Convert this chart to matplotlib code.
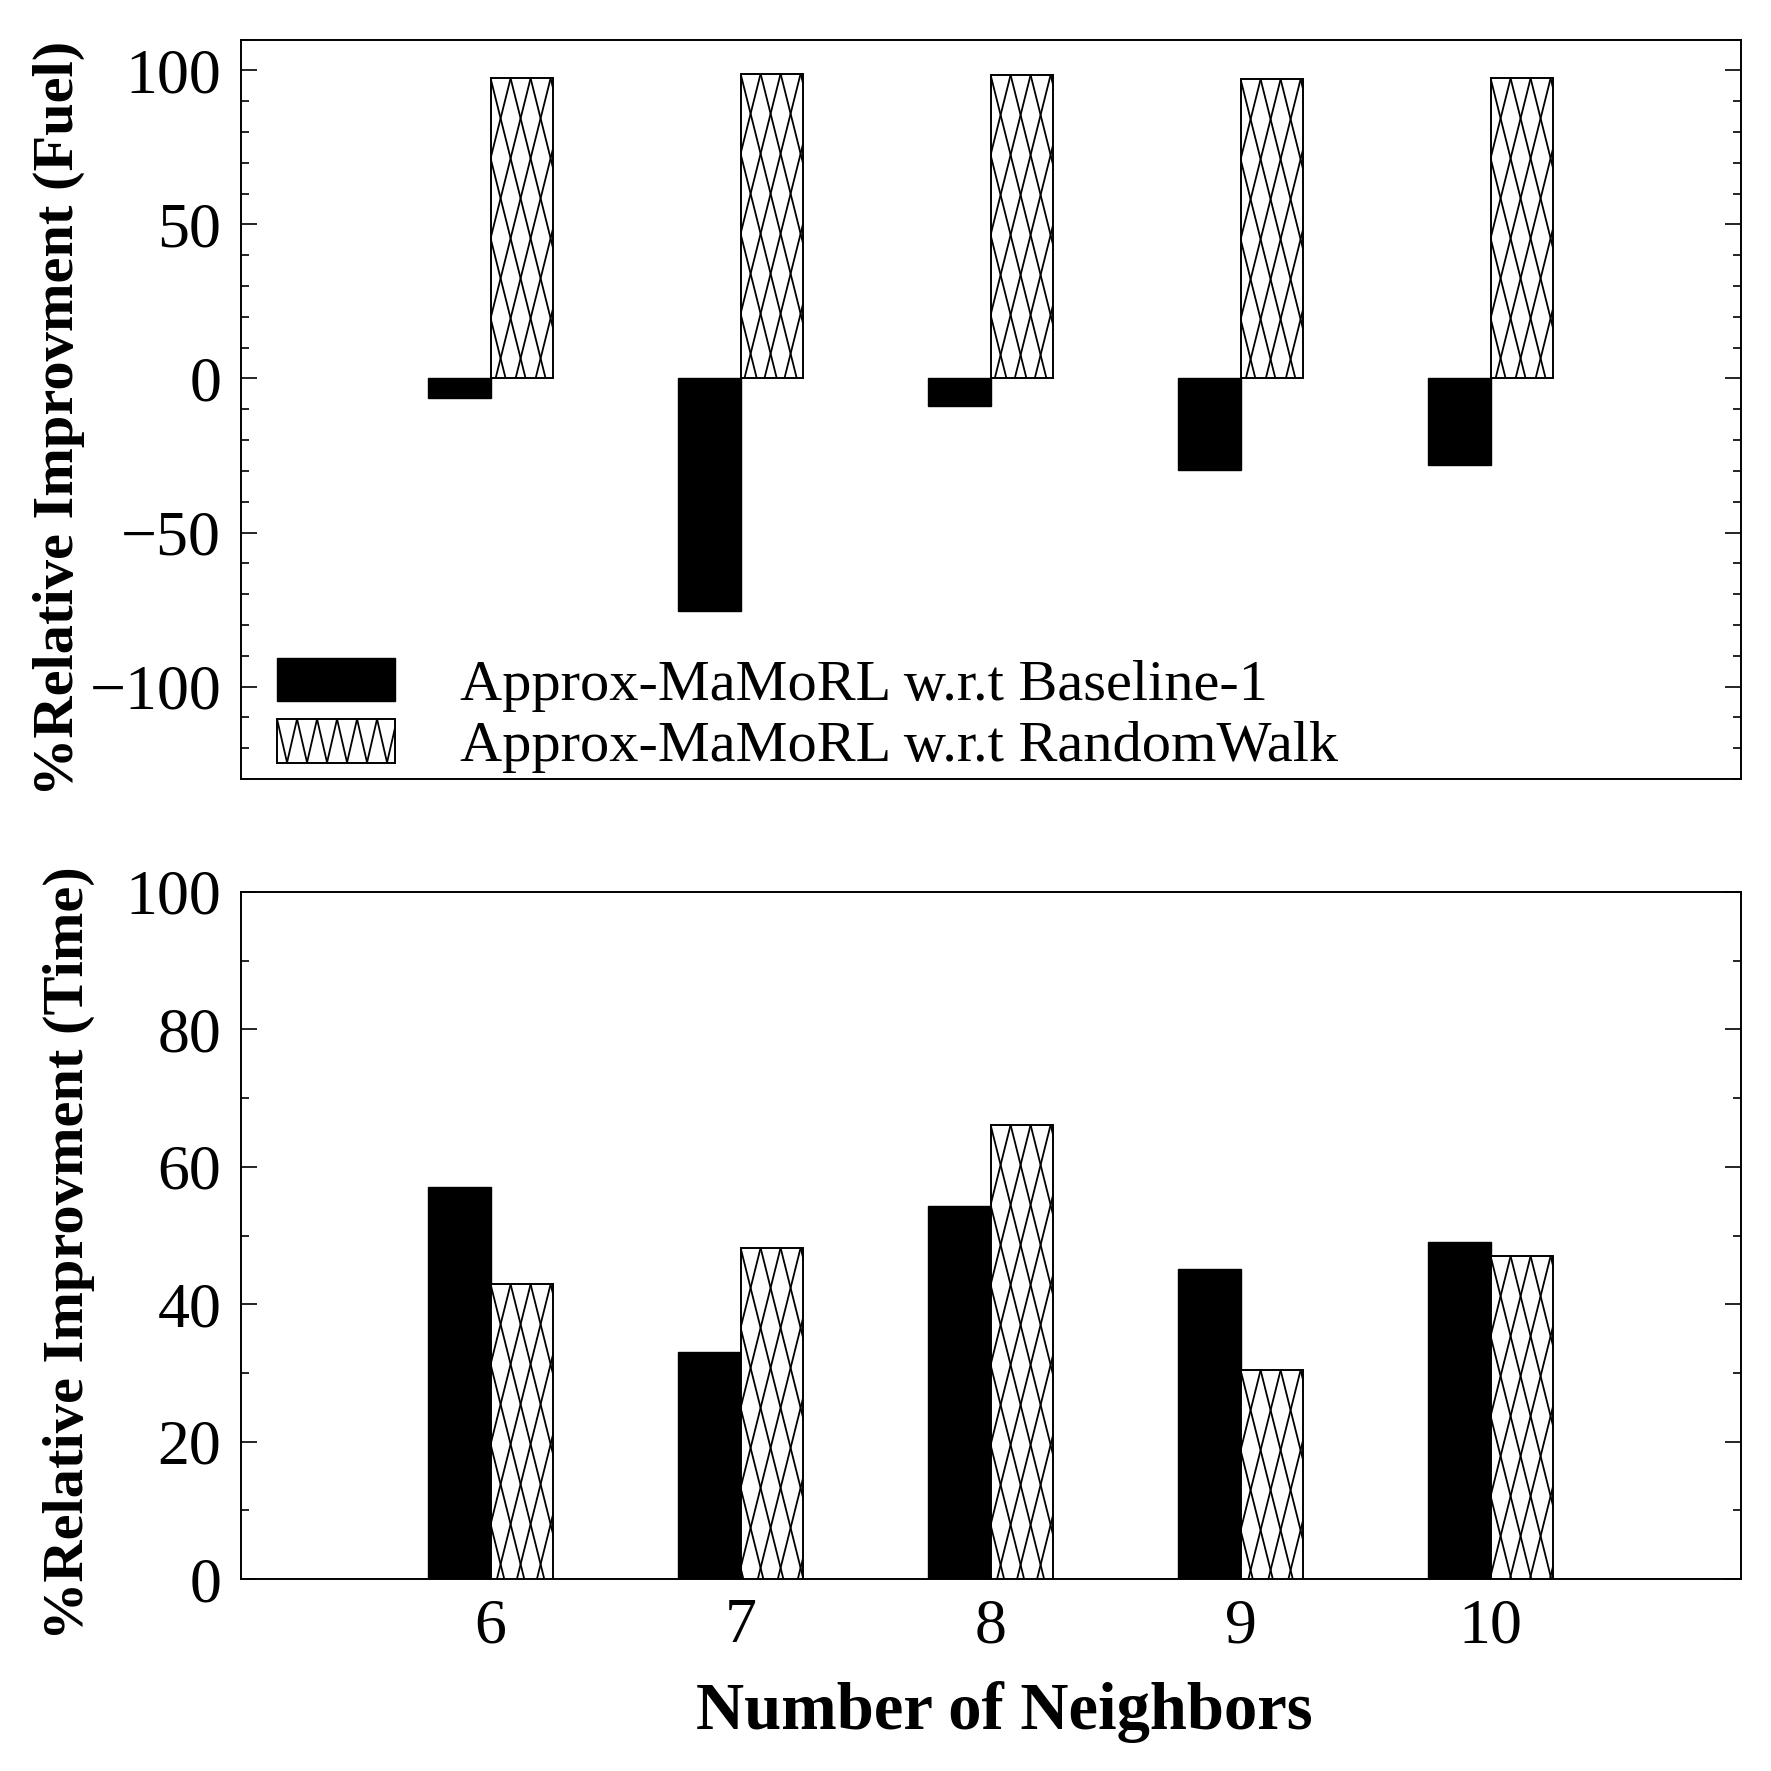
import matplotlib
matplotlib.use('Agg')
import matplotlib.pyplot as plt
import numpy as np
from matplotlib.collections import LineCollection
from matplotlib.patches import Patch
from matplotlib.transforms import IdentityTransform
from matplotlib.ticker import MultipleLocator

# data
neighbors = [6, 7, 8, 9, 10]
fuel_baseline = [-6.2, -75.5, -8.8, -29.7, -28.2]
fuel_random = [97.4, 98.9, 98.5, 97.1, 97.4]
time_baseline = [57.1, 33.1, 54.3, 45.1, 49.0]
time_random = [42.9, 48.2, 66.1, 30.4, 47.0]
labels = ['Approx-MaMoRL w.r.t Baseline-1', 'Approx-MaMoRL w.r.t RandomWalk']

plt.rcParams['font.family'] = ['Liberation Serif', 'DejaVu Serif']

W = 1771
fig = plt.figure(figsize=(17.71, 17.71), dpi=100)
ax1 = fig.add_axes([240.6 / W, 1 - 779 / W, 1500 / W, 739.5 / W])
ax2 = fig.add_axes([240.6 / W, 1 - 1579 / W, 1500 / W, 687 / W])

bw = 0.25
x = np.array(neighbors)


def diamond_hatch(ax, patch, p=20.0, s=4.0, lw=1.3):
    # steep cross-hatch drawn as lines in pixel space, clipped to the bar
    bb = patch.get_bbox()
    (px0, py0), (px1, py1) = ax.transData.transform([[bb.x0, bb.y0], [bb.x1, bb.y1]])
    xl, xr = min(px0, px1), max(px0, px1)
    yt, yb = max(py0, py1), min(py0, py1)
    shift = (yt - yb) / s
    segs = []
    for k in range(int(-shift / p) - 2, int((xr - xl + shift) / p) + 2):
        xs = xl + k * p
        segs.append([(xs, yt), (xs + shift, yb)])
        segs.append([(xs, yt), (xs - shift, yb)])
    lc = LineCollection(segs, colors='black', linewidths=lw,
                        transform=IdentityTransform(), zorder=4)
    ax.add_collection(lc, autolim=False)
    lc.set_clip_path(patch)


for ax, a, b in [(ax1, fuel_baseline, fuel_random), (ax2, time_baseline, time_random)]:
    ax.bar(x - bw / 2, a, width=bw, color='black', edgecolor='black', linewidth=1.0)
    ax.bar(x + bw / 2, b, width=bw, color='white', edgecolor='black', linewidth=1.4, zorder=3)
    ax.set_xlim(5, 11)
    ax.set_xticks(neighbors)
    ax.tick_params(axis='x', length=0, labelsize=46, pad=14)
    ax.tick_params(axis='y', which='both', direction='in', left=True, right=True,
                   labelsize=46, width=1.2, pad=14)
    ax.tick_params(axis='y', which='major', length=11.5)
    ax.tick_params(axis='y', which='minor', length=5.8)
    for sp in ax.spines.values():
        sp.set_linewidth(1.4)

ax1.set_ylim(-130, 110)
ax1.yaxis.set_major_locator(MultipleLocator(50))
ax1.yaxis.set_minor_locator(MultipleLocator(10))
ax1.set_xticklabels([])
ax1.set_ylabel('%Relative Improvment (Fuel)', fontsize=42, fontweight='bold')
ax1.yaxis.set_label_coords(-0.104, 0.487)

ax2.set_ylim(0, 100)
ax2.yaxis.set_major_locator(MultipleLocator(20))
ax2.yaxis.set_minor_locator(MultipleLocator(10))
ax2.set_ylabel('%Relative Improvment (Time)', fontsize=42, fontweight='bold')
ax2.yaxis.set_label_coords(-0.097, 0.475)
ax2.set_xlabel('Number of Neighbors', fontsize=48, fontweight='bold')
ax2.xaxis.set_label_coords(0.509, -0.1485)

for ax in (ax1, ax2):
    for patch in ax.patches[5:]:
        diamond_hatch(ax, patch)

fs = 42
fpx = fs * 100 / 72
leg = ax1.legend([Patch(facecolor='black', edgecolor='black'),
                  Patch(facecolor='white', edgecolor='black', linewidth=1.4)],
                 labels, loc='lower left', bbox_to_anchor=(0.0243, 0.008), frameon=False,
                 fontsize=fs, handlelength=118 / fpx, handleheight=45 / fpx,
                 handletextpad=65 / fpx, labelspacing=0.12, borderaxespad=0, borderpad=0)

# zigzag hatch in the legend key
fig.canvas.draw()
bb = leg.get_patches()[1].get_window_extent()
p = 20.0
segs = []
for k in range(-2, int(bb.width / p) + 3):
    xs = bb.x0 + k * p
    segs.append([(xs, bb.y1), (xs + p / 2, bb.y0)])
    segs.append([(xs, bb.y1), (xs - p / 2, bb.y0)])
lc = LineCollection(segs, colors='black', linewidths=1.3, transform=IdentityTransform(), zorder=6)
lc.set_clip_box(bb)
fig.add_artist(lc)

fig.savefig('out.png', dpi=100)
